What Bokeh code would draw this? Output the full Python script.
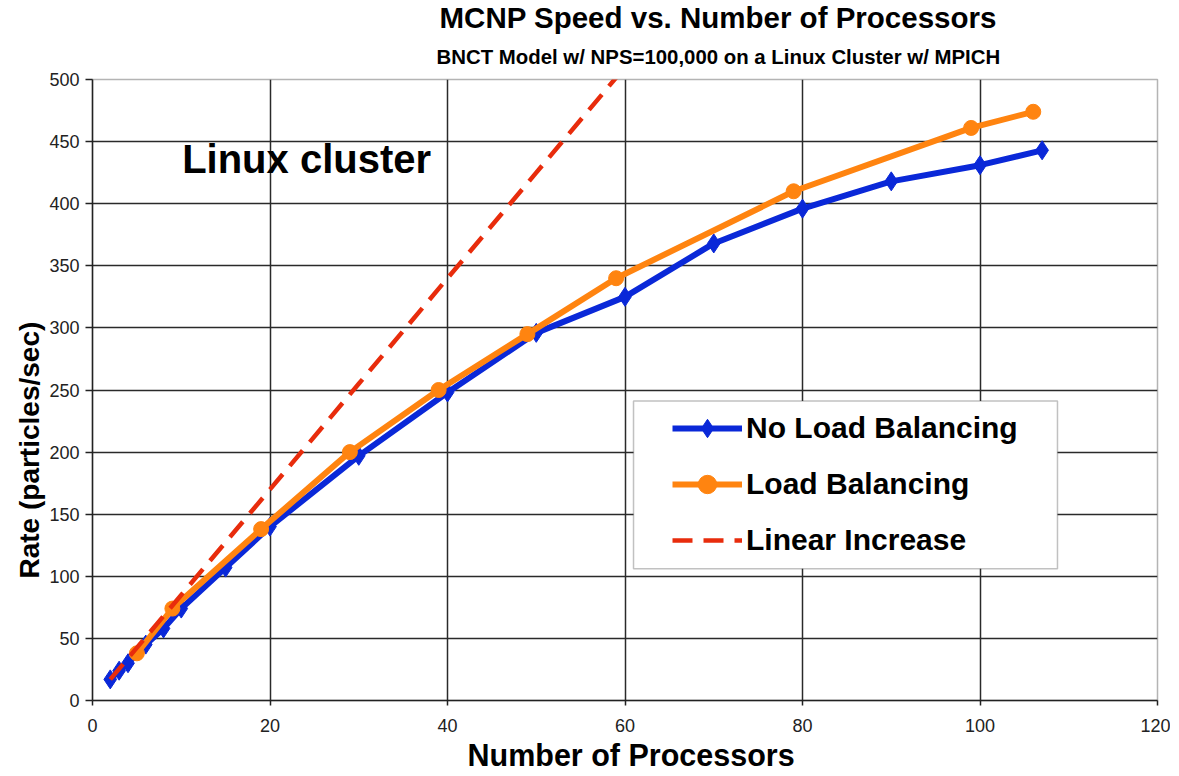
from bokeh.plotting import figure
from bokeh.models import Legend, LegendItem, Label, BoxAnnotation, FixedTicker, Range1d, Title
from bokeh.embed import file_html
from bokeh.resources import INLINE

# ---- data ----
nolb_x = [2, 3, 4, 6, 8, 10, 15, 20, 30, 40, 50, 60, 70, 80, 90, 100, 107]
nolb_y = [17, 24, 30, 45, 58, 74, 107, 140, 197, 248, 296, 325, 368, 396, 418, 431, 443]
lb_x = [5, 9, 19, 29, 39, 49, 59, 79, 99, 106]
lb_y = [38, 74, 138, 200, 250, 295, 340, 410, 461, 474]
lin_x = [2, 10, 20, 30, 40, 50, 60]
lin_y = [17, 85, 170, 255, 340, 425, 510]
x_ticks = [0, 20, 40, 60, 80, 100, 120]
y_ticks = [0, 50, 100, 150, 200, 250, 300, 350, 400, 450, 500]

FONT = "Liberation Sans"
BLUE = "#0a28d8"
ORANGE = "#ff8410"
RED = "#e82c0c"

p = figure(width=1170, height=776, output_backend="svg", toolbar_location=None,
           x_range=Range1d(0, 120), y_range=Range1d(0, 500),
           min_border_left=92, min_border_right=13, min_border_top=79, min_border_bottom=76)
p.background_fill_color = "white"
p.border_fill_color = "white"
p.outline_line_color = "#b4b4b4"
p.outline_line_width = 1.5

p.xaxis.ticker = FixedTicker(ticks=x_ticks)
p.yaxis.ticker = FixedTicker(ticks=y_ticks)
p.xgrid.ticker = FixedTicker(ticks=x_ticks[1:-1])
p.ygrid.ticker = FixedTicker(ticks=y_ticks[1:-1])
for g in (p.xgrid, p.ygrid):
    g.grid_line_color = "#2a2a2a"
    g.grid_line_width = 1.5

for ax in (p.xaxis, p.yaxis):
    ax.axis_line_color = "#222222"
    ax.axis_line_width = 1.5
    ax.major_tick_line_color = "#222222"
    ax.major_tick_line_width = 1.5
    ax.minor_tick_line_color = None
    ax.major_label_text_font = FONT
    ax.major_label_text_font_size = "18px"
    ax.major_label_text_color = "#222222"
p.xaxis.major_tick_in = 0
p.xaxis.major_tick_out = 5
p.xaxis.major_label_standoff = 13
p.yaxis.major_tick_in = 0
p.yaxis.major_tick_out = 7
p.yaxis.major_label_standoff = 6

bl = p.line(nolb_x, nolb_y, line_color=BLUE, line_width=6, line_join="round")
bs = p.scatter(nolb_x, nolb_y, marker="diamond", size=19, fill_color=BLUE, line_color=BLUE)
ol = p.line(lb_x, lb_y, line_color=ORANGE, line_width=6, line_join="round")
os_ = p.scatter(lb_x, lb_y, marker="circle", size=15, fill_color=ORANGE, line_color=ORANGE)
rl = p.line(lin_x, lin_y, line_color=RED, line_width=4.5, line_dash="20 11")

box = BoxAnnotation(left=60.96, right=108.73, bottom=106.1, top=241.2,
                    fill_color="white", fill_alpha=1.0, line_color="#333333", line_width=1.5)
p.add_layout(box)

legend = Legend(items=[LegendItem(label="No Load Balancing", renderers=[bl, bs]),
                       LegendItem(label="Load Balancing", renderers=[ol, os_]),
                       LegendItem(label="Linear Increase", renderers=[rl])],
                location=(575, 132), padding=5, spacing=10, margin=0,
                glyph_width=70, glyph_height=46, label_height=46, label_standoff=4,
                label_text_font=FONT, label_text_font_style="bold", label_text_font_size="30px",
                label_text_color="black",
                border_line_alpha=0, background_fill_alpha=0)
p.add_layout(legend)

p.add_layout(Label(x=10.1, y=436, text="Linux cluster", text_font=FONT, text_font_style="bold",
                   text_font_size="40px", text_color="black", text_baseline="alphabetic"))

# titles (subtitle first: closest to the frame)
p.add_layout(Title(text="BNCT Model w/ NPS=100,000 on a Linux Cluster w/ MPICH", align="left",
                   offset=344, standoff=23, text_font=FONT, text_font_style="bold",
                   text_font_size="20.4px", text_color="black"), "above")
p.add_layout(Title(text="MCNP Speed vs. Number of Processors", align="left", offset=347, standoff=-3,
                   text_font=FONT, text_font_style="bold", text_font_size="29.5px",
                   text_color="black"), "above")
# axis titles
p.add_layout(Title(text="Number of Processors", align="left", offset=375, standoff=2,
                   text_font=FONT, text_font_style="bold", text_font_size="30.5px",
                   text_color="black"), "below")
p.add_layout(Title(text="Rate (particles/sec)", align="left", offset=122, standoff=4,
                   text_font=FONT, text_font_style="bold", text_font_size="28px",
                   text_color="black"), "left")

open("out.html", "w").write(file_html(p, INLINE))
